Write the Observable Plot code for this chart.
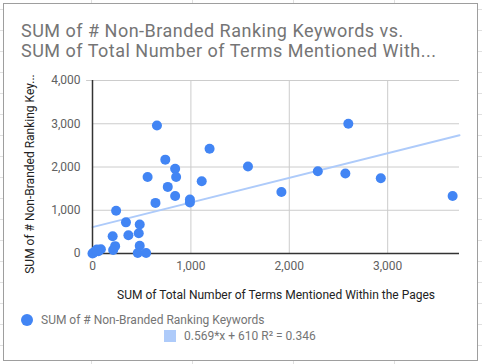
<!DOCTYPE html>
<html>
<head>
<meta charset="utf-8">
<script src="https://cdn.jsdelivr.net/npm/d3@7"></script>
<script src="https://cdn.jsdelivr.net/npm/@observablehq/plot@0.6"></script>
<style>
  html, body { margin: 0; padding: 0; }
  body {
    width: 482px; height: 364px; overflow: hidden; position: relative;
    font-family: Roboto, "Noto Sans", sans-serif;
    background-color: #fff;
    background-image:
      repeating-linear-gradient(to bottom, transparent 0, transparent 9px, #e0e0e0 9px, #e0e0e0 10px, transparent 10px, transparent 21px),
      repeating-linear-gradient(to right, transparent 0, transparent 91px, #e0e0e0 91px, #e0e0e0 92px, transparent 92px, transparent 101px);
  }
  #box {
    position: absolute; left: 3px; top: 3px; width: 473px; height: 356px;
    border: 1px solid #9e9e9e; background: #fff;
  }
  #title {
    position: absolute; left: 21px; top: 21px; font-size: 18px; line-height: 20px;
    color: #757575; white-space: nowrap; letter-spacing: 0.5px;
  }
  #chart { position: absolute; left: 0; top: 0; }
  .leg { position: absolute; font-size: 12px; color: #757575; white-space: nowrap; line-height: 14px; }
  .dot { position: absolute; width: 12px; height: 12px; border-radius: 50%; background: #4285f4; }
  .sq { position: absolute; width: 12px; height: 12px; background: #aecbfa; }
</style>
</head>
<body>
<div id="box"></div>
<div id="title">SUM of # Non-Branded Ranking Keywords vs.<br>SUM of Total Number of Terms Mentioned With...</div>
<div id="chart"></div>
<div class="dot" style="left:21px; top:314px;"></div>
<div class="leg" style="left:41px; top:313px;">SUM of # Non-Branded Ranking Keywords</div>
<div class="sq" style="left:164px; top:330px;"></div>
<div class="leg" style="left:184px; top:329px;">0.569*x + 610 R² = 0.346</div>
<script>
const xTitle = "SUM of Total Number of Terms Mentioned Within the Pages";
const yTitle = "SUM of # Non-Branded Ranking Key...";
const termsMentioned = [655, 1190, 740, 840, 850, 560, 1110, 765, 840, 990, 990, 640, 240, 340, 480, 205, 365, 470, 230, 210, 480, 460, 545, 0, 10, 35, 60, 85, 45, 2600, 2290, 2570, 2930, 1920, 3660, 1580];
const rankingKeywords = [2960, 2420, 2170, 1960, 1770, 1770, 1670, 1540, 1330, 1250, 1180, 1170, 990, 720, 670, 400, 420, 470, 170, 80, 180, 10, 10, 0, 20, 70, 50, 100, 90, 3000, 1900, 1850, 1740, 1420, 1330, 2010];
const trendSlope = 0.569;
const trendIntercept = 610;
const xDomain = [0, 3730];
const yDomain = [0, 4000];
const xTicks = [0, 1000, 2000, 3000];
const yTicks = [0, 1000, 2000, 3000, 4000];

const points = termsMentioned.map((x, i) => ({x, y: rankingKeywords[i]}));
const trend = xDomain.map(x => ({x, y: trendSlope * x + trendIntercept}));

const chart = Plot.plot({
  width: 482,
  height: 364,
  marginLeft: 92,
  marginRight: 23,
  marginTop: 80,
  marginBottom: 111,
  style: {fontFamily: "Roboto, sans-serif", fontSize: "12px", background: "transparent", color: "#444"},
  x: {domain: xDomain, ticks: xTicks},
  y: {domain: yDomain, ticks: yTicks},
  marks: [
    Plot.gridY(yTicks, {stroke: "#cccccc", strokeOpacity: 1, strokeWidth: 1}),
    Plot.gridX(xTicks.slice(1), {stroke: "#cccccc", strokeOpacity: 1, strokeWidth: 1}),
    Plot.ruleY([4000], {x1: -60, x2: 0, stroke: "#cccccc"}),
    Plot.axisY({ticks: yTicks, tickSize: 0, tickPadding: 12, fill: "#616161", label: yTitle, labelAnchor: "center", labelArrow: "none", labelOffset: 67}),
    Plot.axisX({ticks: xTicks, tickSize: 0, tickPadding: 8, fill: "#616161", label: xTitle, labelAnchor: "center", labelArrow: "none", labelOffset: 45}),
    Plot.line(trend, {x: "x", y: "y", stroke: "#aecbfa", strokeWidth: 2}),
    Plot.ruleX([0], {stroke: "#333", strokeWidth: 1.5}),
    Plot.ruleY([0], {stroke: "#333", strokeWidth: 1.5}),
    Plot.dot(points, {x: "x", y: "y", r: 5, fill: "#4285f4", stroke: "none"})
  ]
});
document.getElementById("chart").append(chart);
chart.querySelectorAll("[aria-label='y-axis label'], [aria-label='x-axis label']").forEach(g => g.setAttribute("fill", "#222"));
const yl = chart.querySelector("[aria-label='y-axis label']");
if (yl) yl.setAttribute("transform", "translate(0,7) " + (yl.getAttribute("transform") || ""));
</script>
</body>
</html>
